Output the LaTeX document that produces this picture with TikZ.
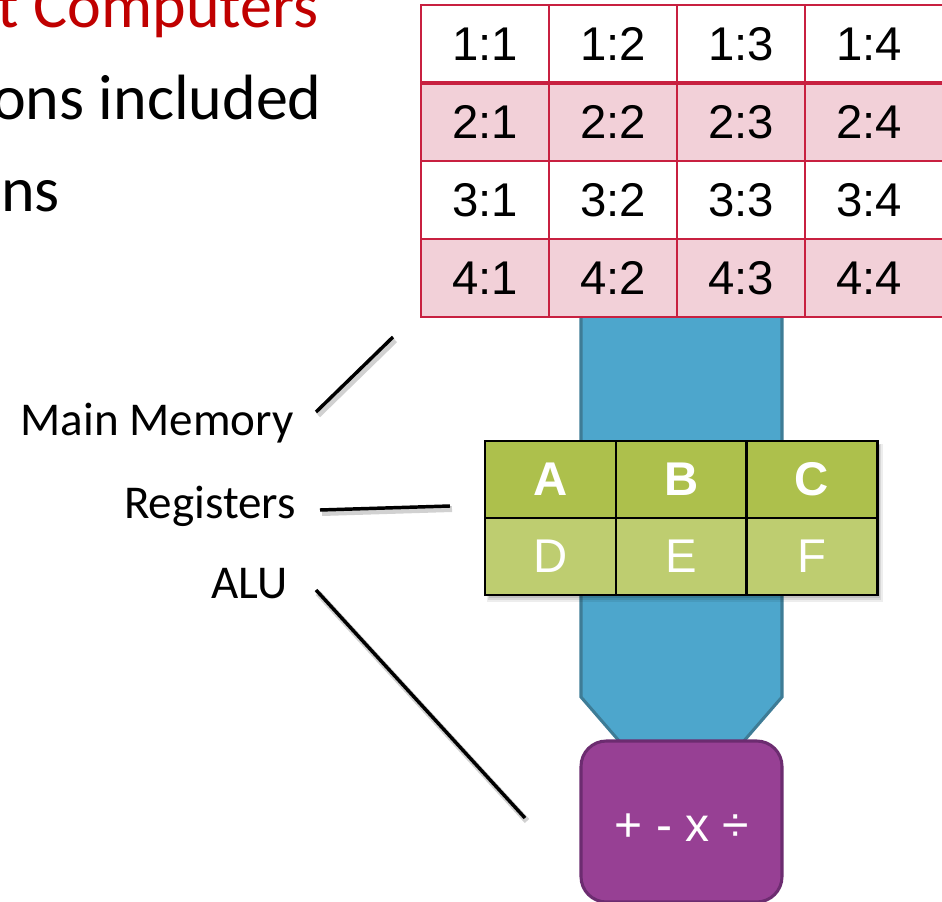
\documentclass[tikz,border=0pt]{standalone}
\usepackage{fontspec}
\setmainfont{Carlito}
\newfontfamily\arialfont{Liberation Sans}
\definecolor{titlered}{RGB}{192,0,0}
\definecolor{tabborder}{RGB}{200,32,64}
\definecolor{tabpink}{RGB}{242,208,216}
\definecolor{busfill}{RGB}{77,166,204}
\definecolor{busline}{RGB}{62,124,150}
\definecolor{regtop}{RGB}{173,192,76}
\definecolor{regbot}{RGB}{190,205,112}
\definecolor{alufill}{RGB}{151,64,148}
\definecolor{aluline}{RGB}{108,44,112}
\begin{document}
\begin{tikzpicture}[x=0.75pt,y=-0.75pt,
  bodytext/.style={anchor=base east,inner sep=0pt,font=\fontsize{48}{56}\selectfont},
  lbl/.style={anchor=base east,inner sep=0pt,font=\fontsize{35.3}{42}\selectfont},
  celltext/.style={inner sep=0pt,font=\arialfont\fontsize{35.5}{42}\selectfont},
  tabline/.style={draw=tabborder,line width=1.6pt},
  regcell/.style={draw=black,line width=1.8pt,minimum width=98.25pt,minimum height=57.75pt,inner sep=0pt,text=white},
  conn/.style={line width=2.6pt,black},
  connshadow/.style={line width=4.5pt,black,opacity=0.18},
  alubox/.style={draw=aluline,fill=alufill,line width=2.3pt,rounded corners=19pt,minimum width=150.75pt,minimum height=120.75pt,inner sep=0pt},
  alutext/.style={inner sep=0pt,text=white,font=\arialfont\fontsize{36}{42}\selectfont}
]
\useasboundingbox (0,0) rectangle (942,902);
\clip (0,0) rectangle (942,902);

% slide text (cut at left edge)
\node[bodytext,text=titlered] (title) at (319,28) {t Computers};
\node[bodytext] (line1) at (322,120) {ons included};
\node[bodytext] (line2) at (60,212) {ns};

% bus (blue bar)
\draw[fill=busfill,draw=busline,line width=2.3pt]
  (581,316) -- (782,316) -- (782,697) -- (743,742) -- (620,742) -- (581,697) -- cycle;

% main memory table
\fill[tabpink] (421,83) rectangle (960,161);
\fill[tabpink] (421,239) rectangle (960,317);
\fill[white] (421,5) rectangle (960,83);
\fill[white] (421,161) rectangle (960,239);
\draw[tabline] (421,5) rectangle (960,317);
\foreach \yy in {83,161,239} \draw[tabline] (421,\yy) -- (960,\yy);
\draw[tabline,line width=2.4pt] (421,83) -- (960,83);
\foreach \xx in {549,677,805} \draw[tabline] (\xx,5) -- (\xx,317);
\foreach \r/\yc in {1/44,2/122,3/200,4/278}{
  \foreach \c/\xc in {1/485,2/613,3/741,4/869}{
    \node[celltext] (m\r\c) at (\xc,\yc) {\r:\c};
  }
}

% registers (with soft shadow)
\fill[black,opacity=0.07] (487,444) rectangle (883,602);
\fill[black,opacity=0.09] (488,444) rectangle (881,600);
\fill[black,opacity=0.10] (489,445) rectangle (880,598);
\node[regcell,fill=regtop,font=\arialfont\bfseries\fontsize{35.5}{42}\selectfont] (rA) at (550.5,479.5) {A};
\node[regcell,fill=regtop,font=\arialfont\bfseries\fontsize{35.5}{42}\selectfont] (rB) at (681.5,479.5) {B};
\node[regcell,fill=regtop,font=\arialfont\bfseries\fontsize{35.5}{42}\selectfont] (rC) at (812,479.5) {C};
\node[regcell,fill=regbot,font=\arialfont\fontsize{35.5}{42}\selectfont] (rD) at (550.5,556.5) {D};
\node[regcell,fill=regbot,font=\arialfont\fontsize{35.5}{42}\selectfont] (rE) at (681.5,556.5) {E};
\node[regcell,fill=regbot,font=\arialfont\fontsize{35.5}{42}\selectfont] (rF) at (812,556.5) {F};

% ALU
\node[alubox] (alu) at (681.5,821.5) {};
\node[alutext] (aluops) at (682,828) {+ - x ÷};

% labels
\node[lbl] (lmem) at (294,435) {Main Memory};
\node[lbl] (lreg) at (296,518) {Registers};
\node[lbl] (lalu) at (288,598) {ALU};

% connector lines
\coordinate (memA) at (316,412);
\coordinate (memB) at (393,337);
\coordinate (regA) at (320,510);
\coordinate (regB) at (450,506);
\coordinate (aluA) at (316,590);
\coordinate (aluB) at (525,818);
\foreach \a/\b in {memA/memB,regA/regB,aluA/aluB}{
  \draw[connshadow] ([shift={(2,3)}]\a) -- ([shift={(2,3)}]\b);
  \draw[conn] (\a) -- (\b);
}
\end{tikzpicture}
\end{document}
